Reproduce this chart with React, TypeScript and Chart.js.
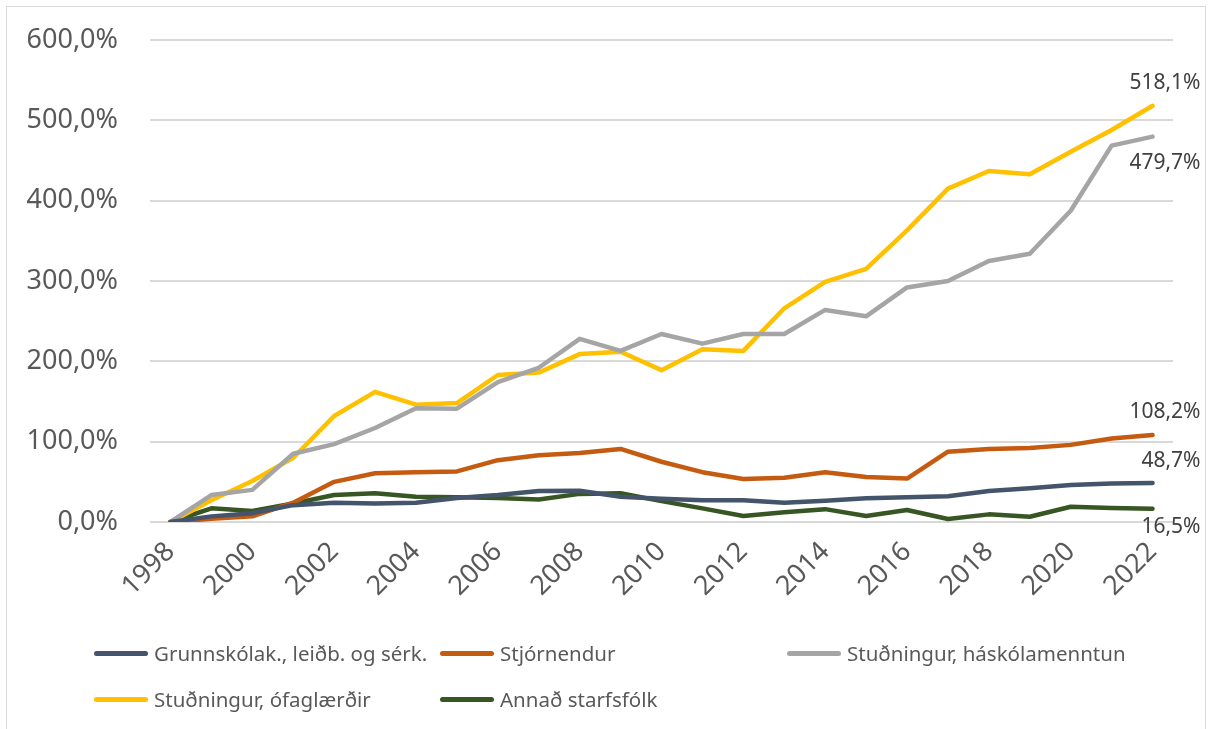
import React, { useEffect, useRef } from "react";
import { Chart, registerables } from "chart.js";

Chart.register(...registerables);

const years = ["1998","1999","2000","2001","2002","2003","2004","2005","2006","2007","2008","2009","2010","2011","2012","2013","2014","2015","2016","2017","2018","2019","2020","2021","2022"];

const grunnskolak = [0,7,11,21,24,23,24,30,33.6,38.6,39,31.5,29,27,27,24,26.5,29.5,30.7,32,38.6,42,46,48,48.7];
const stjornendur = [0,4,7,24,50,60.6,62,63,77,83,86,91,75,62,53.5,55,62,56,54,87.5,91,92,96,104,108.2];
const haskolamenntun = [0,33.6,40,85,97,117,141.5,141,174,192,228,213,234,222,234,234,264,256,292,300,325,334,387.5,468.5,479.7];
const ofaglaerdir = [0,27,51,80,132,162,146,148,183,186,209,212,189,215,213,266,299,315,363,415,437,433,461,488,518.1];
const annad = [0,17,13.7,23,33.6,35.7,31.5,30.7,30,28,35,35.7,26,17,7.5,12,16,7.5,15,3.7,9.5,6.6,19,17.4,16.5];

const seriesNames = ["Grunnskólak., leiðb. og sérk.","Stjórnendur","Stuðningur, háskólamenntun","Stuðningur, ófaglærðir","Annað starfsfólk"];
const seriesValues = [grunnskolak, stjornendur, haskolamenntun, ofaglaerdir, annad];
const seriesColors = ["#44546A","#C55A11","#A5A5A5","#FFC000","#375623"];

// vertical offset of end label relative to last point (negative = above)
const endLabelDy = [-22, -23, 26, -23, 18];

const yTicks = [0, 100, 200, 300, 400, 500, 600];

const fmt = (v: number) => v.toFixed(1).replace(".", ",") + "%";

const FONT = "'Noto Sans', sans-serif";

const legendPos = [
  { left: 94, top: 653 },
  { left: 440, top: 653 },
  { left: 787, top: 653 },
  { left: 94, top: 699 },
  { left: 440, top: 699 },
];

const endLabels = {
  id: "endLabels",
  afterDatasetsDraw(chart: any) {
    const ctx = chart.ctx;
    ctx.save();
    ctx.font = `21px ${FONT}`;
    ctx.fillStyle = "#404040";
    ctx.textAlign = "right";
    ctx.textBaseline = "middle";
    chart.data.datasets.forEach((ds: any, i: number) => {
      const meta = chart.getDatasetMeta(i);
      const last = meta.data[meta.data.length - 1];
      const v = ds.data[ds.data.length - 1];
      ctx.fillText(fmt(v), last.x + 48, last.y + endLabelDy[i]);
    });
    ctx.restore();
  },
};

export default function App() {
  const ref = useRef<HTMLCanvasElement>(null);
  useEffect(() => {
    if (!ref.current) return;
    const chart = new Chart(ref.current, {
      type: "line",
      data: {
        labels: years,
        datasets: seriesNames.map((name, i) => ({
          label: name,
          data: seriesValues[i],
          borderColor: seriesColors[i],
          backgroundColor: seriesColors[i],
          borderWidth: 4.5,
          pointRadius: 0,
          tension: 0,
          borderCapStyle: "round" as const,
          borderJoinStyle: "round" as const,
        })),
      },
      options: {
        animation: false,
        responsive: false,
        maintainAspectRatio: false,
        layout: { padding: { left: 0, right: 37, top: 40, bottom: 107 } },
        plugins: { legend: { display: false }, tooltip: { enabled: false } },
        scales: {
          x: {
            offset: true,
            grid: { display: false, drawTicks: false },
            border: { display: false },
            afterFit: (s: any) => {
              s.height = 100;
              s.paddingLeft = 0;
              s.paddingRight = 0;
            },
            ticks: {
              autoSkip: false,
              maxRotation: 45,
              minRotation: 45,
              padding: 14,
              color: "#595959",
              font: { family: FONT, size: 27 },
              callback: (_v: any, idx: number) => (idx % 2 === 0 ? years[idx] : ""),
            },
          },
          y: {
            min: 0,
            max: 600,
            afterFit: (s: any) => {
              s.width = 150;
              s.paddingTop = 0;
              s.paddingBottom = 0;
            },
            afterBuildTicks: (s: any) => { s.ticks = yTicks.map((v) => ({ value: v })); },
            grid: { color: "#d9d9d9", lineWidth: 2, drawTicks: false },
            border: { display: false },
            ticks: {
              padding: 32,
              color: "#595959",
              font: { family: FONT, size: 27 },
              callback: (v: any) => fmt(Number(v)),
            },
          },
        },
      },
      plugins: [endLabels],
    });
    return () => chart.destroy();
  }, []);

  return (
    <div style={{ position: "fixed", left: 0, top: 0, width: 1210, height: 729, background: "#fff", overflow: "hidden", fontFamily: FONT }}>
      <div style={{ position: "absolute", left: 6, top: 6, width: 1200, height: 740, border: "1.5px solid #d9d9d9", boxSizing: "border-box" }} />
      <canvas ref={ref} width={1210} height={729} style={{ position: "absolute", left: 0, top: 0, width: 1210, height: 729 }} />
      {seriesNames.map((name, i) => (
        <div key={name} style={{ position: "absolute", left: legendPos[i].left, top: legendPos[i].top - 15, height: 30, display: "flex", alignItems: "center", whiteSpace: "nowrap" }}>
          <span style={{ display: "inline-block", width: 54, height: 5, borderRadius: 3, background: seriesColors[i], marginRight: 6 }} />
          <span style={{ fontSize: 20.5, color: "#595959" }}>{name}</span>
        </div>
      ))}
    </div>
  );
}
